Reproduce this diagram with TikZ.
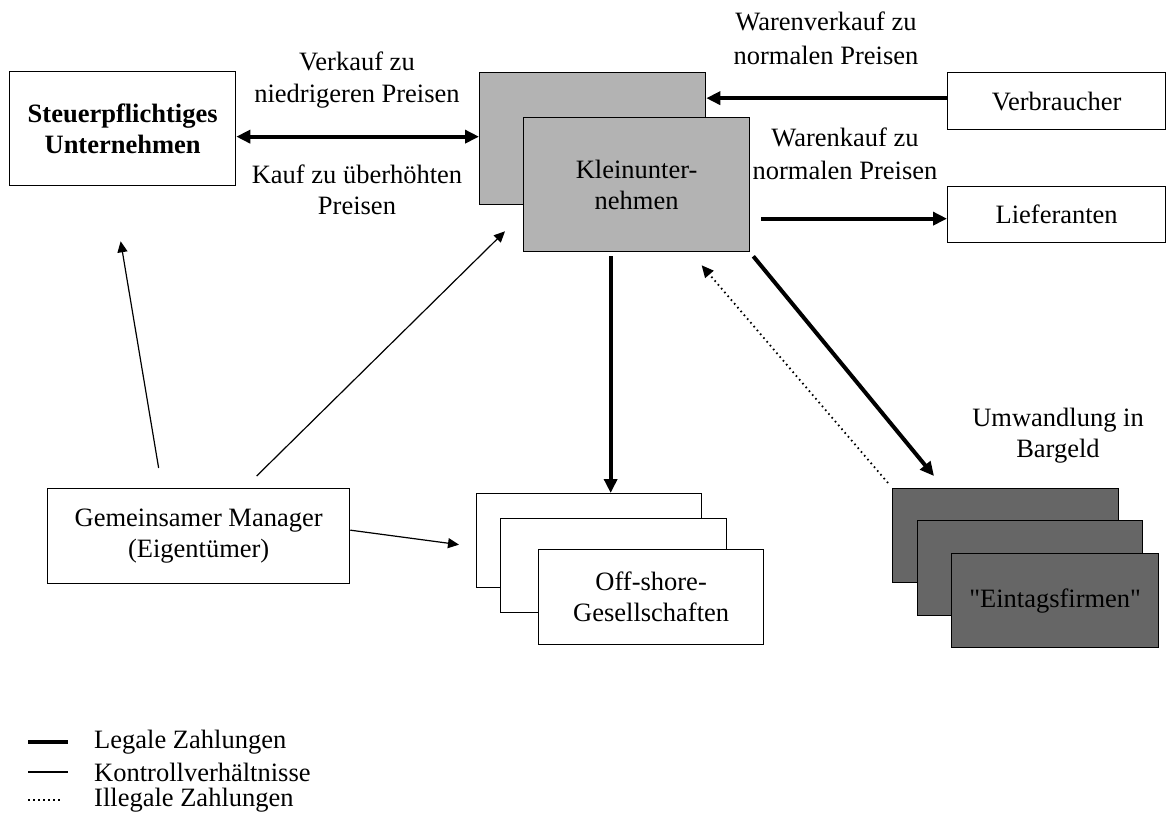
\documentclass[tikz,border=0pt]{standalone}
\usepackage{fontspec}
\setmainfont{Liberation Serif}
\newfontfamily\qfont{Liberation Serif}
\usetikzlibrary{arrows.meta,calc}
\definecolor{kgray}{HTML}{B3B3B3}
\definecolor{egray}{HTML}{666666}
\begin{document}
\begin{tikzpicture}[x=1pt,y=-1pt,
  every node/.style={font=\fontsize{26.5}{31}\selectfont, align=center, inner sep=0pt},
  box/.style={draw, line width=1.3pt, anchor=north west, fill=white},
  kbox/.style={box, fill=kgray},
  ebox/.style={box, fill=egray},
  legal/.style={line width=4pt, -{Triangle[length=14pt,width=13pt]}},
  ctrl/.style={line width=1.2pt, -{Triangle[length=11pt,width=10pt]}},
  illegal/.style={line width=1.8pt, dash pattern=on 1.6pt off 3.4pt, -{Triangle[length=12pt,width=11pt]}},
  lbl/.style={anchor=center}
]
\useasboundingbox (0,0) rectangle (1167,816);

% boxes
\node[box, minimum width=226pt, minimum height=114pt, font=\fontsize{26.5}{31}\selectfont\bfseries] (steuer) at (9,71) {Steuerpflichtiges\\Unternehmen};
\node[kbox, minimum width=226pt, minimum height=132pt] (kleinB) at (479,72) {};
\node[kbox, minimum width=226pt, minimum height=134pt] (kleinF) at (523,117) {Kleinunter-\\nehmen};
\node[box, minimum width=218pt, minimum height=57pt] (verb) at (947,72) {Verbraucher};
\node[box, minimum width=218pt, minimum height=56pt] (lief) at (947,186) {Lieferanten};
\node[box, minimum width=302pt, minimum height=95pt] (manager) at (47,488) {Gemeinsamer Manager\\(Eigentümer)};
\node[box, minimum width=225pt, minimum height=94pt] (off1) at (476,493) {};
\node[box, minimum width=226pt, minimum height=94pt] (off2) at (500,518) {};
\node[box, minimum width=225pt, minimum height=95pt] (off3) at (538,549) {Off-shore-\\Gesellschaften};
\node[ebox, minimum width=226pt, minimum height=94pt] (ein1) at (892,488) {};
\node[ebox, minimum width=225pt, minimum height=95pt] (ein2) at (917,520) {};
\node[ebox, minimum width=207pt, minimum height=94pt, font=\fontsize{26.5}{31}\qfont] (ein3) at (951,553) {"Eintagsfirmen"};

% labels
\node[lbl, font=\fontsize{26.5}{32}\selectfont] (l1) at (357,80) {Verkauf zu\\niedrigeren Preisen};
\node[lbl] (l2) at (357,190) {Kauf zu überhöhten\\Preisen};
\node[lbl, font=\fontsize{26.5}{34}\selectfont] (l3) at (826,38) {Warenverkauf zu\\normalen Preisen};
\node[lbl, font=\fontsize{26.5}{33}\selectfont] (l4) at (845,154) {Warenkauf zu\\normalen Preisen};
\node[lbl] (l5) at (1058,436) {Umwandlung in\\Bargeld};

% connectors
\draw[legal, {Triangle[length=14pt,width=13pt]}-{Triangle[length=14pt,width=13pt]}]
  ($(steuer.east |- kleinB.west)+(0,-2)$) -- ($(kleinB.west)+(0,-2)$);
\draw[legal] ($(verb.west)+(0,-3)$) -- ($(kleinB.east |- verb.west)+(0,-3)$);
\draw[legal] ($(kleinF.east |- lief.west)+(11,4)$) -- ($(lief.west)+(0,4)$);
\coordinate (dtop) at ($(kleinF.south)+(-26,4)$);
\draw[legal] (dtop) -- (dtop |- off1.north);
\draw[legal] ($(kleinF.south east)+(3,4)$) -- ($(ein1.north west)+(42,-12)$);
\draw[illegal] ($(ein1.north west)+(-4,-5)$) -- ($(kleinF.south)+(65,13)$);
\draw[ctrl] ($(manager.east)+(0,-6)$) -- ($(off1.west)+(-17,4)$);
\draw[ctrl] ($(manager.north)+(-40,-20)$) -- ($(steuer.south)+(-2,55)$);
\draw[ctrl] ($(manager.north)+(58,-12)$) -- ($(kleinF.south west)+(-18,-21)$);

% legend
\draw[line width=4pt] (28,742) -- (68,742);
\draw[line width=1.2pt] (28,772) -- (68,772);
\draw[line width=1.8pt, dash pattern=on 1.6pt off 3.4pt] (28,800) -- (62,800);
\node[anchor=west] (g1) at (94,742) {Legale Zahlungen};
\node[anchor=west] (g2) at (94,772) {Kontrollverhältnisse};
\node[anchor=west] (g3) at (94,800) {Illegale Zahlungen};
\end{tikzpicture}
\end{document}
